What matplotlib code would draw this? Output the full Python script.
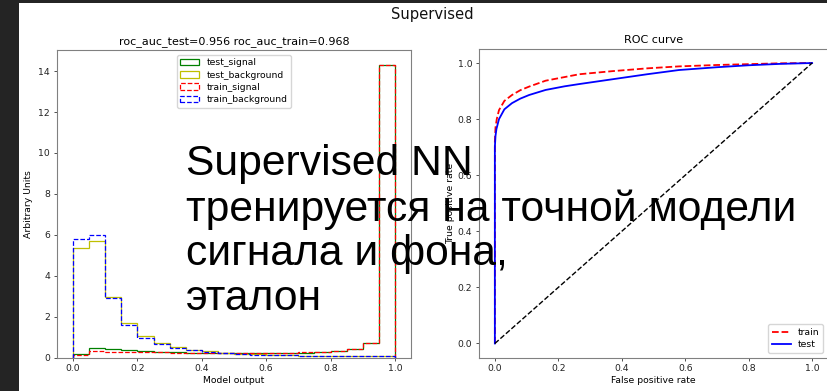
import numpy as np
import matplotlib
matplotlib.use("Agg")
import matplotlib.pyplot as plt
from matplotlib.patches import Rectangle

# ---------------- data ----------------
bin_edges = [0.0, 0.05, 0.1, 0.15, 0.2, 0.25, 0.3, 0.35, 0.4, 0.45, 0.5,
             0.55, 0.6, 0.65, 0.7, 0.75, 0.8, 0.85, 0.9, 0.95, 1.0]

test_signal = [0.18, 0.45, 0.40, 0.35, 0.30, 0.27, 0.25, 0.24, 0.23, 0.22,
               0.21, 0.21, 0.21, 0.22, 0.24, 0.26, 0.30, 0.41, 0.73, 14.30]
test_background = [5.34, 5.72, 2.98, 1.67, 1.06, 0.70, 0.50, 0.38, 0.30, 0.23,
                   0.19, 0.15, 0.12, 0.10, 0.08, 0.07, 0.06, 0.05, 0.05, 0.05]
train_signal = [0.11, 0.33, 0.29, 0.28, 0.27, 0.25, 0.24, 0.23, 0.22, 0.22,
                0.21, 0.21, 0.22, 0.23, 0.25, 0.28, 0.32, 0.44, 0.73, 14.32]
train_background = [5.78, 5.97, 2.93, 1.59, 0.97, 0.67, 0.48, 0.36, 0.29, 0.22,
                    0.18, 0.14, 0.12, 0.10, 0.08, 0.07, 0.06, 0.05, 0.05, 0.05]

roc_auc_test = 0.956
roc_auc_train = 0.968

fpr_test = [0.0, 0.0, 0.002, 0.005, 0.013, 0.03, 0.054, 0.08, 0.108, 0.16,
            0.22, 0.266, 0.37, 0.48, 0.58, 0.70, 0.80, 0.90, 1.0]
tpr_test = [0.0, 0.70, 0.74, 0.765, 0.80, 0.835, 0.857, 0.873, 0.886, 0.904,
            0.917, 0.925, 0.942, 0.960, 0.975, 0.985, 0.992, 0.997, 1.0]
fpr_train = [0.0, 0.0, 0.002, 0.006, 0.013, 0.03, 0.054, 0.08, 0.108, 0.16,
             0.22, 0.266, 0.37, 0.48, 0.58, 0.70, 0.80, 0.90, 1.0]
tpr_train = [0.0, 0.72, 0.77, 0.80, 0.832, 0.865, 0.886, 0.903, 0.916, 0.937,
             0.950, 0.960, 0.971, 0.981, 0.988, 0.993, 0.996, 0.999, 1.0]
diag = [0.0, 1.0]

overlay_text = "Supervised NN\nтренируется на точной модели\nсигнала и фона,\nэталон"

# ---------------- style ----------------
TICK = 6.7
plt.rcParams['font.family'] = ['DejaVu Sans']
plt.rcParams['axes.edgecolor'] = '#808080'
plt.rcParams['xtick.color'] = '#333333'
plt.rcParams['ytick.color'] = '#333333'
plt.rcParams['xtick.labelcolor'] = '#222222'
plt.rcParams['ytick.labelcolor'] = '#222222'
plt.rcParams['xtick.major.size'] = 2.4
plt.rcParams['ytick.major.size'] = 2.4
plt.rcParams['xtick.major.width'] = 0.6
plt.rcParams['ytick.major.width'] = 0.6
plt.rcParams['xtick.major.pad'] = 2.5
plt.rcParams['ytick.major.pad'] = 2.5

W, H = 827, 391
fig = plt.figure(figsize=(W / 100, H / 100), dpi=100)
fig.patch.set_facecolor('#242424')
fig.patches.append(Rectangle((19 / W, 0), 1, (H - 3) / H, transform=fig.transFigure,
                             facecolor='white', edgecolor='none', zorder=-10))

ax1 = fig.add_axes([57 / W, (H - 357.5) / H, (411 - 57) / W, (357.5 - 50) / H])
ax2 = fig.add_axes([479 / W, (H - 357.5) / H, (828 - 479) / W, (357.5 - 49) / H])

centers = [(a + b) / 2 for a, b in zip(bin_edges[:-1], bin_edges[1:])]
ax1.hist(centers, bins=bin_edges, weights=test_signal, histtype='step',
         color='g', lw=0.9, label='test_signal')
ax1.hist(centers, bins=bin_edges, weights=test_background, histtype='step',
         color='y', lw=0.9, label='test_background')
ax1.hist(centers, bins=bin_edges, weights=train_signal, histtype='step',
         color='r', lw=0.9, ls='--', label='train_signal')
ax1.hist(centers, bins=bin_edges, weights=train_background, histtype='step',
         color='b', lw=0.9, ls='--', label='train_background')
ax1.set_title(f"roc_auc_test={roc_auc_test} roc_auc_train={roc_auc_train}",
              fontsize=8.0, pad=4)
ax1.set_xlabel("Model output", fontsize=TICK, labelpad=2)
ax1.set_ylabel("Arbitrary Units", fontsize=TICK, labelpad=4)
ax1.tick_params(labelsize=TICK)
ax1.legend(loc='upper center', fontsize=TICK, handlelength=2.0,
           labelspacing=0.35, borderpad=0.4, framealpha=0.8)

ax2.plot(fpr_train, tpr_train, color='r', ls='--', lw=1.3, label='train')
ax2.plot(fpr_test, tpr_test, color='b', ls='-', lw=1.3, label='test')
ax2.plot(diag, diag, color='k', ls='--', lw=1.0)
ax2.set_title("ROC curve", fontsize=8.0, pad=4)
ax2.set_xlabel("False positive rate", fontsize=TICK, labelpad=2)
ax2.set_ylabel("True positive rate", fontsize=TICK, labelpad=2)
ax2.tick_params(labelsize=TICK)
ax2.legend(loc='lower right', fontsize=TICK, handlelength=2.0,
           labelspacing=0.35, borderpad=0.4, framealpha=0.8)

fig.text(432 / W, (H - 15) / H, "Supervised", ha='center', va='center',
         fontsize=10.6, color='#111111')

fig.text(186 / W, (H - 144) / H, overlay_text, ha='left', va='top',
         fontsize=30.7, family=['Liberation Sans', 'DejaVu Sans'], color='black',
         linespacing=1.16, zorder=10)

fig.savefig("out.png", dpi=100, facecolor=fig.get_facecolor())
